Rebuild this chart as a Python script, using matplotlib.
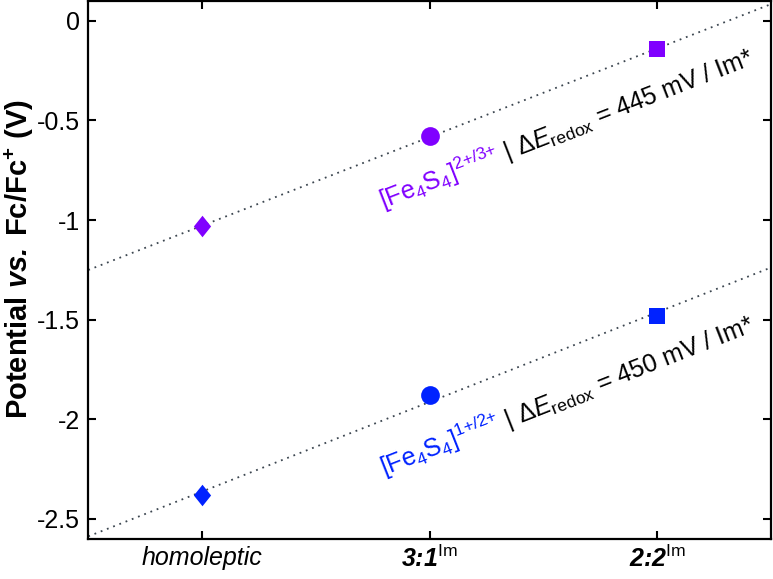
import numpy as np
import matplotlib
matplotlib.use('Agg')
import matplotlib.pyplot as plt
from matplotlib.text import Text

# ---------------- data ----------------
categories = ['homoleptic', '3:1', '2:2']
e_ox = [-1.03, -0.58, -0.14]    # [Fe4S4]2+/3+
e_red = [-2.38, -1.88, -1.48]   # [Fe4S4]1+/2+
yticks = [0, -0.5, -1, -1.5, -2, -2.5]
ytick_labels = ['0', '-0.5', '-1', '-1.5', '-2', '-2.5']
xtick_labels = ['homoleptic',
                r'3:1$^{\mathrm{Im}}$',
                r'2:2$^{\mathrm{Im}}$']

# ---------------- style ----------------
plt.rcParams['font.family'] = ['Liberation Sans', 'DejaVu Sans']
plt.rcParams['mathtext.fontset'] = 'custom'
plt.rcParams['mathtext.rm'] = 'Liberation Sans'
plt.rcParams['mathtext.it'] = 'Liberation Sans:italic'
plt.rcParams['mathtext.bf'] = 'Liberation Sans:bold'
plt.rcParams['mathtext.bfit'] = 'Liberation Sans:bold:italic'
plt.rcParams['mathtext.sf'] = 'Liberation Sans'
plt.rcParams['axes.unicode_minus'] = False

FS = 18
purple = '#8000ff'
blue = '#0022ff'
line_c = '#3c4650'
diamond = [(0, 1), (0.8, 0), (0, -1), (-0.8, 0), (0, 1)]
markers = [diamond, 'o', 's']
msizes = [15.5, 13.5, 11]

fig = plt.figure(figsize=(7.73, 5.79), dpi=100)
ax = fig.add_axes([0.1142, 0.0696, 0.8832, 0.9287])
ax.set_xlim(-0.5, 2.5)
ax.set_ylim(-2.6, 0.1)

x = np.arange(len(categories))

# fit lines
for ys in (e_ox, e_red):
    p = np.polyfit(x, ys, 1)
    xx = np.array(ax.get_xlim())
    ax.plot(xx, np.polyval(p, xx), ls=(0, (1, 2.7)), color=line_c, lw=1.3, zorder=2)

for ys, c in ((e_ox, purple), (e_red, blue)):
    for xi, yi, m, ms in zip(x, ys, markers, msizes):
        ax.plot([xi], [yi], marker=m, ms=ms, color=c, mec=c, mew=0, ls='none', zorder=3)

ax.set_xticks(x)
ax.set_xticklabels(xtick_labels)
ax.set_yticks(yticks)
ax.set_yticklabels(ytick_labels)
ax.tick_params(axis='both', direction='in', length=6, width=1.5, top=True, right=True,
               labelsize=FS)
ax.tick_params(axis='y', pad=6)
ax.tick_params(axis='x', pad=5)
xl = ax.get_xticklabels()
xl[0].set_fontstyle('italic')
for t in xl[1:]:
    t.set_fontstyle('italic')
    t.set_fontweight('bold')
for s in ax.spines.values():
    s.set_linewidth(1.6)

ax.set_ylabel(r'Potential $\mathbfit{vs.}\;$Fc/Fc$^{\mathbf{+}}$ (V)', fontsize=21,
              fontweight='bold')
ax.yaxis.set_label_coords(-0.077, 0.52)


def rotated_parts(ax, x0, y0, slope, parts, fs):
    fig = ax.figure
    renderer = fig.canvas.get_renderer()
    p0 = ax.transData.transform((x0, y0))
    p1 = ax.transData.transform((x0 + 1, y0 + slope))
    ang = np.arctan2(p1[1] - p0[1], p1[0] - p0[0])
    pos = np.array(p0, dtype=float)
    for s, c in parts:
        xd, yd = ax.transData.inverted().transform(pos)
        ax.text(xd, yd, s, color=c, fontsize=fs, rotation=np.degrees(ang),
                rotation_mode='anchor', ha='left', va='baseline', zorder=4)
        tmp = Text(0, 0, s, fontsize=fs)
        tmp.set_figure(fig)
        w = tmp.get_window_extent(renderer).width
        pos = pos + w * np.array([np.cos(ang), np.sin(ang)])


slope_ox = np.polyfit(x, e_ox, 1)[0]
slope_red = np.polyfit(x, e_red, 1)[0]
rotated_parts(ax, 0.795, -0.945, slope_ox,
              [(r'[Fe$_4$S$_4$]$^{2{+}/3{+}}$', purple),
               (r' | $\mathit{\Delta E}_{\mathrm{redox}}$ = 445 mV / Im*', 'black')], FS)
rotated_parts(ax, 0.80, -2.29, slope_red,
              [(r'[Fe$_4$S$_4$]$^{1{+}/2{+}}$', blue),
               (r' | $\mathit{\Delta E}_{\mathrm{redox}}$ = 450 mV / Im*', 'black')], FS)

fig.savefig('out.png', dpi=100)
